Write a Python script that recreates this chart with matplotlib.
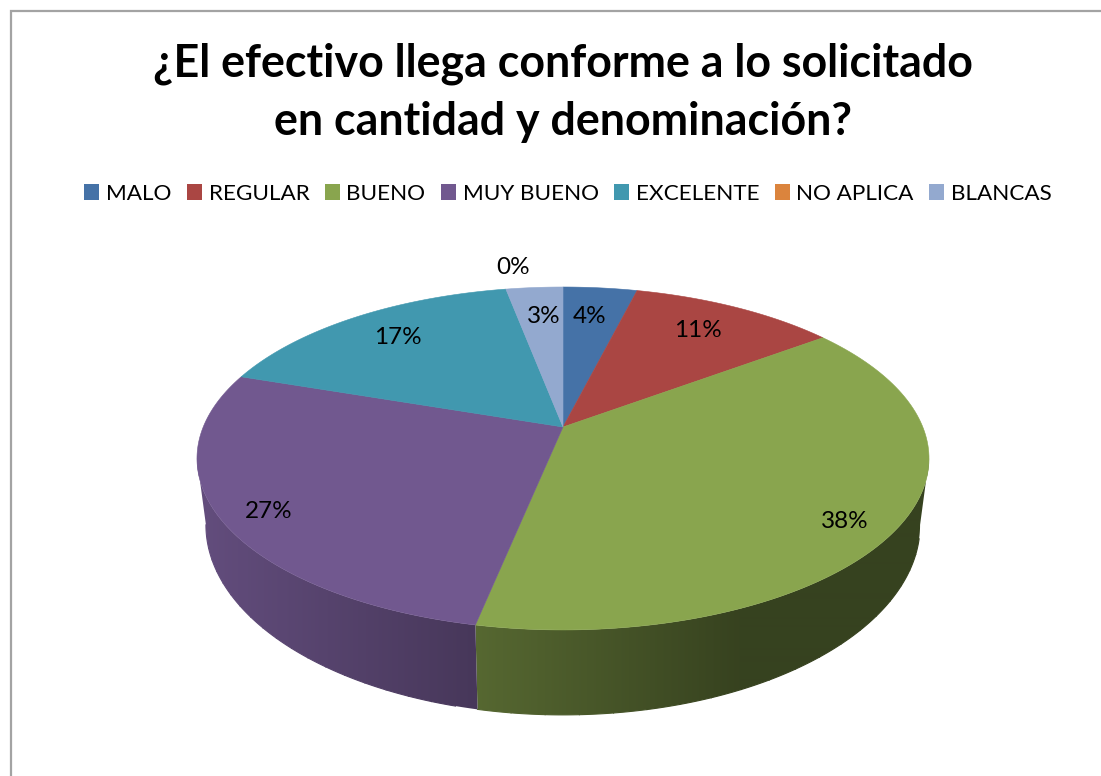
import numpy as np
import matplotlib
matplotlib.use("Agg")
import matplotlib.pyplot as plt
from matplotlib.patches import Patch, Polygon

# --- datos ---
categories = ["MALO", "REGULAR", "BUENO", "MUY BUENO", "EXCELENTE", "NO APLICA", "BLANCAS"]
values = [3.9, 10.9, 38.4, 27.0, 16.8, 0.0, 3.0]
colors = ["#4572a7", "#aa4643", "#89a54e", "#71588f", "#4198af", "#db843d", "#93a9cf"]
title = "¿El efectivo llega conforme a lo solicitado\nen cantidad y denominación?"

# radio relativo y giro (grados) de cada etiqueta
label_radius = [0.78, 0.79, 0.87, 0.88, 0.80, 1.20, 0.78]
label_shift = [-1.0, -1.8, 3.2, -1.4, 1.0, 2.6, 0.7]

# geometria de la perspectiva, en pixeles
CX = 563
K = 0.1836
TOP_Y0, TOP_A, TOP_B = 427, 359.8, 165.7
BOT_Y0, BOT_A, BOT_B = 490, 351.0, 183.6

# oscurecimiento de la pared segun x
SHADE_X = [205, 475, 740, 930]
SHADE_F = [0.87, 0.63, 0.40, 0.40]

# angulo donde la elipse alcanza su x extrema (limite visible de la pared)
VIS = np.degrees(np.arccos(-K))


def project(theta_deg, r=1.0, y0=TOP_Y0, a=TOP_A, b=TOP_B):
    # angulo en sentido horario desde arriba -> pixel
    t = np.radians(theta_deg)
    u = r * np.sin(t)
    v = r * np.cos(t)
    w = 1 + K * v
    return CX + a * u / w, y0 - b * v / w


fig = plt.figure(figsize=(11.01, 7.76), dpi=100)
ax = fig.add_axes([0, 0, 1, 1])
ax.axis("off")

# borde gris (solo izquierda y arriba quedan dentro de la imagen)
ax.plot([10.5, 10.5, 1101], [776, 10.5, 10.5], color="#a3a3a3", lw=1.6, solid_joinstyle="miter")

edges = np.cumsum([0] + values) * 3.6

# pared lateral: degradado horizontal recortado con la forma de cada porcion
grad_x = np.arange(150, 981)
factor = np.interp(grad_x, SHADE_X, SHADE_F)
for i, col in enumerate(colors):
    t1 = max(edges[i], VIS)
    t2 = min(edges[i + 1], 360 - VIS)
    if t2 <= t1:
        continue
    arc = np.linspace(t1, t2, 200)
    xt, yt = project(arc)
    xb, yb = project(arc[::-1], y0=BOT_Y0, a=BOT_A, b=BOT_B)
    outline = Polygon(np.c_[np.r_[xt, xb], np.r_[yt, yb]], closed=True,
                      facecolor="none", edgecolor="none", transform=ax.transData)
    ax.add_patch(outline)
    rgb = np.array(matplotlib.colors.to_rgb(col))
    img = ax.imshow(factor[None, :, None] * rgb, extent=(150, 981, 780, 280), aspect="auto",
                    interpolation="bilinear", zorder=1)
    img.set_clip_path(outline)
    # linea inferior para suavizar el borde recortado
    for j in range(0, len(xb) - 10, 10):
        ax.plot(xb[j:j + 11], yb[j:j + 11], lw=0.8, zorder=1,
                color=tuple(rgb * np.interp(xb[j:j + 11].mean(), SHADE_X, SHADE_F)))

# cara superior
for i, col in enumerate(colors):
    if values[i] == 0:
        continue
    arc = np.linspace(edges[i], edges[i + 1], 120)
    xs, ys = project(arc)
    ax.fill(np.r_[CX, xs], np.r_[TOP_Y0, ys], color=col, lw=0.4, zorder=2)

# etiquetas de porcentaje
for i, val in enumerate(values):
    mid = (edges[i] + edges[i + 1]) / 2 + label_shift[i]
    lx, ly = project(mid, r=label_radius[i])
    ax.text(lx + 1, ly + 2, f"{val:.0f}%", ha="center", va="center", fontsize=17.5,
            family="Lato", color="black", zorder=3)

ax.text(562.5, 93, title, ha="center", va="center", fontsize=32.2, fontweight="bold",
        family="Lato", color="black", linespacing=1.46)

handles = [Patch(facecolor=c, edgecolor="none") for c in colors]
ax.legend(handles, categories, ncol=7, loc="center", bbox_to_anchor=(568 / 1101, 1 - 194 / 776),
          frameon=False, prop={"family": "Lato", "size": 16.2},
          handlelength=0.67, handleheight=0.67, handletextpad=0.3, columnspacing=0.68,
          borderpad=0, borderaxespad=0)

ax.set_xlim(0, 1101)
ax.set_ylim(776, 0)
fig.savefig("out.png", dpi=100)
